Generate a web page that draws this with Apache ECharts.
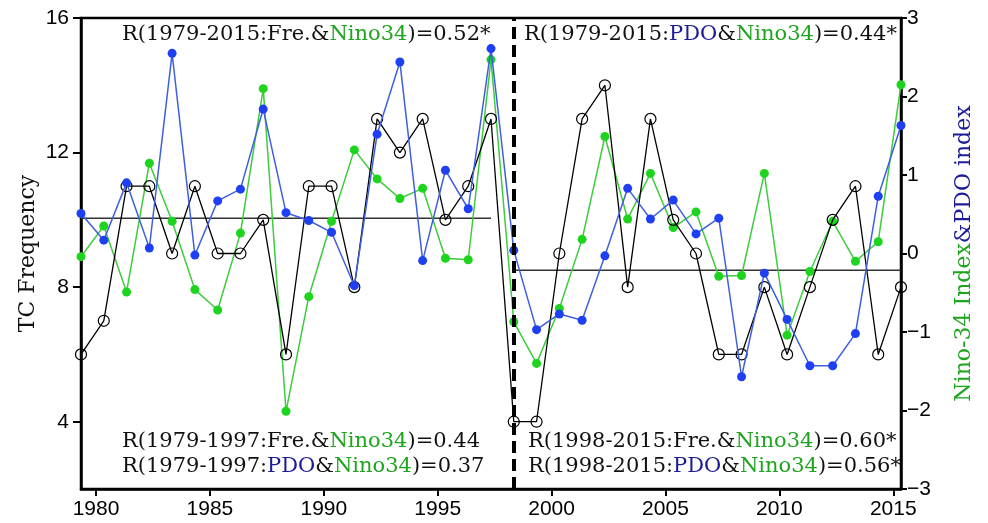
<!DOCTYPE html>
<html>
<head>
<meta charset="utf-8">
<script src="https://cdn.jsdelivr.net/npm/echarts@6/dist/echarts.min.js"></script>
<style>
  html, body { margin: 0; padding: 0; background: #fff; }
  #chart { width: 988px; height: 523px; }
</style>
</head>
<body>
<div id="chart"></div>
<script>
  var years = [1979, 1980, 1981, 1982, 1983, 1984, 1985, 1986, 1987, 1988, 1989, 1990,
    1991, 1992, 1993, 1994, 1995, 1996, 1997, 1998, 1999, 2000, 2001, 2002, 2003, 2004,
    2005, 2006, 2007, 2008, 2009, 2010, 2011, 2012, 2013, 2014, 2015];
  // TC frequency (left axis)
  var tcFreq = [6, 7, 11, 11, 9, 11, 9, 9, 10, 6, 11, 11, 8, 13, 12, 13, 10, 11, 13,
    4, 4, 9, 13, 14, 8, 13, 10, 9, 6, 6, 8, 6, 8, 10, 11, 6, 8];
  // PDO index (right axis)
  var pdo = [0.51, 0.17, 0.90, 0.07, 2.55, -0.02, 0.67, 0.82, 1.84, 0.52, 0.42, 0.27,
    -0.41, 1.52, 2.44, -0.09, 1.06, 0.57, 2.61, 0.04, -0.97, -0.77, -0.85, -0.03, 0.83,
    0.44, 0.68, 0.25, 0.45, -1.57, -0.25, -0.84, -1.43, -1.43, -1.02, 0.73, 1.63];
  // Nino-34 index (right axis)
  var nino34 = [-0.04, 0.35, -0.49, 1.15, 0.41, -0.46, -0.72, 0.26, 2.10, -2.01, -0.55,
    0.41, 1.32, 0.95, 0.70, 0.83, -0.06, -0.08, 2.47, -0.87, -1.40, -0.70, 0.18, 1.49,
    0.44, 1.02, 0.33, 0.53, -0.29, -0.28, 1.02, -1.04, -0.23, 0.41, -0.10, 0.15, 2.15];
  // mean TC frequency of the two periods
  var meanEarly = [[1979, 10.05], [1997, 10.05]];
  var meanLate = [[1998, 8.5], [2015, 8.5]];
  var breakYear = 1998;

  var xTicks = [1980, 1985, 1990, 1995, 2000, 2005, 2010, 2015];
  var leftTicks = [4, 8, 12, 16];

  var green = '#1fa41f', navy = '#1c1c96';
  var serif = 'DejaVu Serif';

  function pairs(vals) {
    return years.map(function (y, i) { return [y, vals[i]]; });
  }

  var chart = echarts.init(document.getElementById('chart'));

  var rich = {
    k: { color: '#111', fontFamily: serif, fontSize: 21 },
    g: { color: green, fontFamily: serif, fontSize: 21 },
    b: { color: navy, fontFamily: serif, fontSize: 21 }
  };
  function note(text, left, top) {
    return {
      text: text, left: left, top: top, padding: 0, itemGap: 0,
      textStyle: { fontFamily: serif, fontSize: 21, fontWeight: 'normal', color: '#111', lineHeight: 25, rich: rich }
    };
  }

  var option = {
    animation: false,
    backgroundColor: '#fff',
    title: [
      note('{k|R(1979-2015:Fre.&}{g|Nino34}{k|)=0.52*}', 122, 22),
      note('{k|R(1979-2015:}{b|PDO}{k|&}{g|Nino34}{k|)=0.44*}', 524, 22),
      note('{k|R(1979-1997:Fre.&}{g|Nino34}{k|)=0.44}\n{k|R(1979-1997:}{b|PDO}{k|&}{g|Nino34}{k|)=0.37}', 122, 429),
      note('{k|R(1998-2015:Fre.&}{g|Nino34}{k|)=0.60*}\n{k|R(1998-2015:}{b|PDO}{k|&}{g|Nino34}{k|)=0.56*}', 528, 429)
    ],
    grid: {
      left: 81, right: 87, top: 18, bottom: 34, outerBoundsMode: 'none',
      show: true, borderColor: '#000', borderWidth: 2.5
    },
    xAxis: [
      { type: 'value', min: 1979, max: 2015, show: false },
      {
        type: 'value', min: 1979.34, max: 2015.34, position: 'bottom',
        axisLine: { show: true, lineStyle: { color: '#000', width: 2.5 } },
        axisTick: { show: true, customValues: xTicks, length: 7, lineStyle: { color: '#000', width: 2 } },
        axisLabel: {
          customValues: xTicks, color: '#000', fontSize: 21, fontFamily: 'Liberation Sans', margin: 10,
          formatter: function (v) { return String(v); }
        },
        splitLine: { show: false }
      }
    ],
    yAxis: [
      {
        type: 'value', min: 2, max: 16, position: 'left',
        name: 'TC Frequency', nameLocation: 'middle', nameRotate: 90, nameGap: 42, nameMoveOverlap: false,
        nameTextStyle: { fontFamily: serif, fontSize: 22, color: '#111' },
        axisLine: { show: true, lineStyle: { color: '#000', width: 2.5 } },
        axisTick: { show: true, customValues: leftTicks, length: 8, lineStyle: { color: '#000', width: 2 } },
        axisLabel: { customValues: leftTicks, color: '#000', fontSize: 21, fontFamily: 'Liberation Sans', margin: 12 },
        splitLine: { show: false }
      },
      {
        type: 'value', min: -3, max: 3, interval: 1, position: 'right',
        name: '{g|Nino-34 Index}{b|&PDO index}', nameLocation: 'middle', nameRotate: 90, nameGap: 52,
        nameTextStyle: {
          fontFamily: serif, fontSize: 22,
          rich: {
            g: { color: green, fontFamily: serif, fontSize: 22 },
            b: { color: navy, fontFamily: serif, fontSize: 22 }
          }
        },
        axisLine: { show: true, lineStyle: { color: '#000', width: 2.5 } },
        axisTick: { show: true, length: 6, lineStyle: { color: '#000', width: 2 } },
        axisLabel: {
          color: '#000', fontSize: 21, fontFamily: 'Liberation Sans', margin: 6,
          formatter: function (v) { return String(v).replace('-', '\u2212'); }
        },
        splitLine: { show: false }
      }
    ],
    series: [
      {
        type: 'line', xAxisIndex: 0, yAxisIndex: 0, data: meanEarly, symbol: 'none',
        lineStyle: { color: '#333', width: 1.6 }, silent: true, z: 1
      },
      {
        type: 'line', xAxisIndex: 0, yAxisIndex: 0, data: meanLate, symbol: 'none',
        lineStyle: { color: '#333', width: 1.6 }, silent: true, z: 1,
        markLine: {
          silent: true, symbol: 'none', label: { show: false },
          lineStyle: { color: '#000', width: 4, type: [12, 6] },
          data: [{ xAxis: breakYear }]
        }
      },
      {
        name: 'Nino34', type: 'line', xAxisIndex: 0, yAxisIndex: 1, data: pairs(nino34),
        symbol: 'circle', symbolSize: 9,
        itemStyle: { color: '#1ed41e' },
        lineStyle: { color: '#3ccc3c', width: 1.5 }, z: 2
      },
      {
        name: 'TC', type: 'line', xAxisIndex: 0, yAxisIndex: 0, data: pairs(tcFreq),
        symbol: 'circle', symbolSize: 11,
        itemStyle: { color: 'rgba(255,255,255,0)', borderColor: '#000', borderWidth: 1.2 },
        lineStyle: { color: '#000', width: 1.3 }, z: 3
      },
      {
        name: 'PDO', type: 'line', xAxisIndex: 0, yAxisIndex: 1, data: pairs(pdo),
        symbol: 'circle', symbolSize: 9,
        itemStyle: { color: '#1f3ff2' },
        lineStyle: { color: '#3e5fe0', width: 1.5 }, z: 4
      }
    ]
  };

  chart.setOption(option);
</script>
</body>
</html>
